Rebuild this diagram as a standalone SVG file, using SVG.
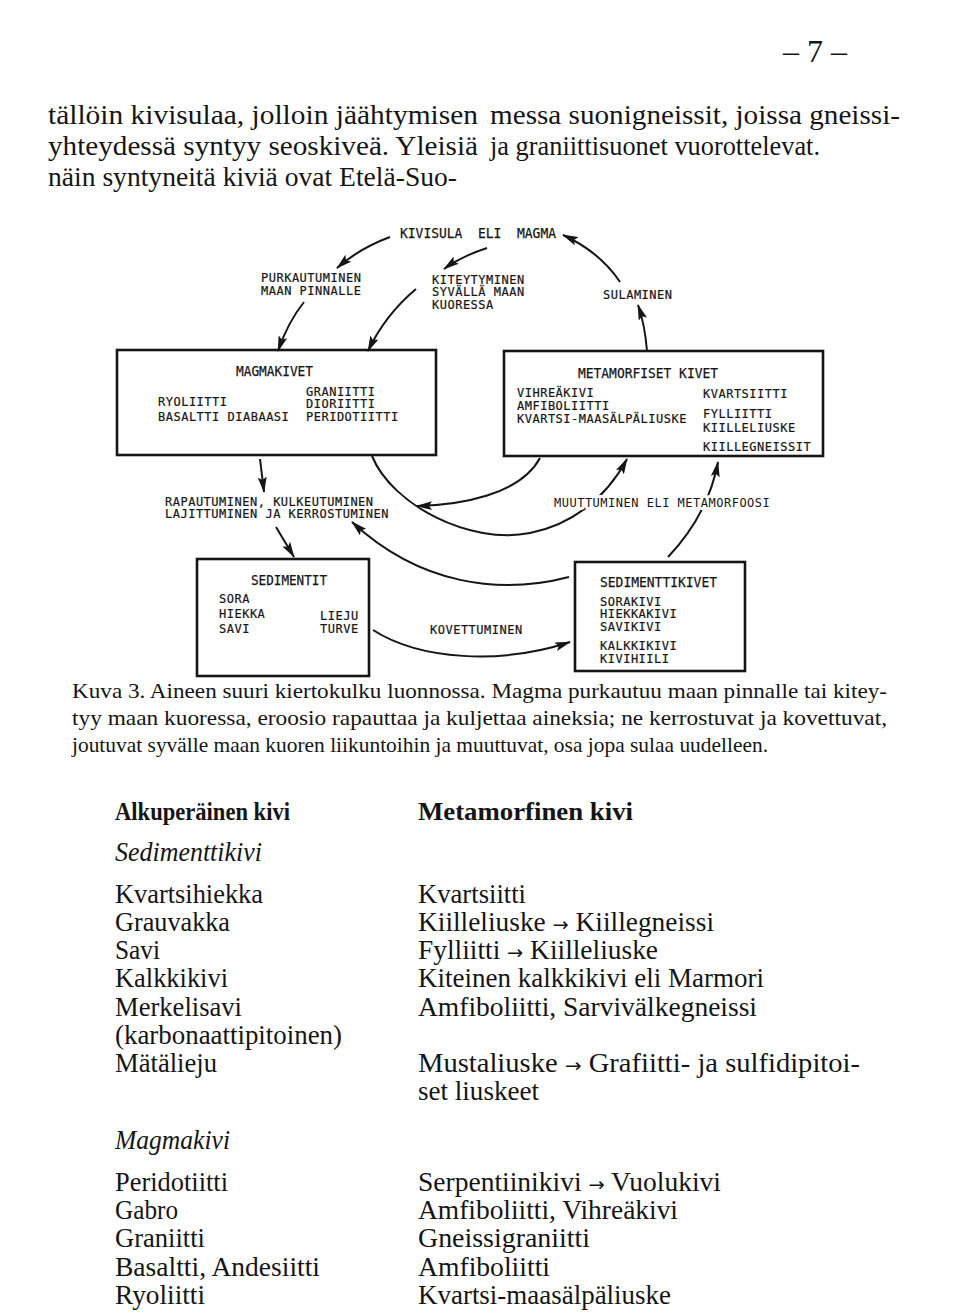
<svg xmlns="http://www.w3.org/2000/svg" width="960" height="1315" viewBox="0 0 960 1315">
<style>
.pg{font-family:"Liberation Serif","Times New Roman",serif;fill:#151515;}
.p{font-size:27px;}
.cap{font-size:22px;}
.tb{font-size:27px;}
.bh{font-size:26px;font-weight:bold;}
.it{font-size:27px;font-style:italic;}
.ar{font-family:"DejaVu Sans",sans-serif;font-size:19px;}
.h{font-family:"DejaVu Sans Mono",monospace;font-size:14px;fill:#151515;stroke:#151515;stroke-width:0.25px;}
.t{font-family:"DejaVu Sans Mono",monospace;font-size:12px;letter-spacing:0.5px;fill:#151515;stroke:#151515;stroke-width:0.2px;}
.halo{stroke:#fff;stroke-width:6px;paint-order:stroke;stroke-linejoin:round;}
.box{fill:none;stroke:#151515;stroke-width:2.6;}
.ln{fill:none;stroke:#151515;stroke-width:2;marker-end:url(#ah);}
</style>
<defs>
<marker id="ah" markerUnits="userSpaceOnUse" markerWidth="16" markerHeight="9" refX="15" refY="4.5" orient="auto">
<path d="M0,0 L16,4.5 L0,9 L3,4.5 Z" fill="#151515"/>
</marker>
</defs>
<rect width="960" height="1315" fill="#fff"/>

<!-- page text -->
<text class="pg" x="815" y="62" font-size="32" text-anchor="middle">– 7 –</text>
<text class="pg p" x="48" y="124" textLength="430" lengthAdjust="spacingAndGlyphs">tällöin kivisulaa, jolloin jäähtymisen</text>
<text class="pg p" x="48" y="155" textLength="430" lengthAdjust="spacingAndGlyphs">yhteydessä syntyy seoskiveä. Yleisiä</text>
<text class="pg p" x="48" y="186" textLength="409" lengthAdjust="spacingAndGlyphs">näin syntyneitä kiviä ovat Etelä-Suo-</text>
<text class="pg p" x="490" y="124" textLength="410" lengthAdjust="spacingAndGlyphs">messa suonigneissit, joissa gneissi-</text>
<text class="pg p" x="490" y="155" textLength="330" lengthAdjust="spacingAndGlyphs">ja graniittisuonet vuorottelevat.</text>

<!-- connectors -->
<g id="connectors">
<path class="ln" d="M390,237 Q360,248 337,268"/>
<path class="ln" d="M487,248 Q462,256 444,269"/>
<path class="ln" d="M620,282 Q600,252 563,235"/>
<path class="ln" d="M304,302 Q288,322 278,351"/>
<path class="ln" d="M416,289 Q385,315 368,351"/>
<path class="ln" d="M647,351 Q645,325 638,305"/>
<path class="ln" d="M260,459 L264,492"/>
<path class="ln" d="M372,456 C392,505 470,545 530,533 C570,525 605,500 627,459"/>
<path class="ln" d="M540,458 C520,495 460,505 417,506"/>
<path class="ln" d="M569,577 C500,595 420,585 352,522"/>
<path class="ln" d="M668,557 Q708,515 718,462"/>
<path class="ln" d="M276,527 L294,557"/>
<path class="ln" d="M373,630 C420,660 500,665 570,642"/>
</g>

<g id="node-magma">
<text class="h" x="400" y="238" textLength="156" lengthAdjust="spacingAndGlyphs" xml:space="preserve">KIVISULA  ELI  MAGMA</text>
</g>
<g id="node-purkautuminen">
<text class="t" x="261" y="282">PURKAUTUMINEN</text>
<text class="t" x="261" y="295">MAAN PINNALLE</text>
</g>
<g id="node-kiteytyminen">
<text class="t" x="432" y="284">KITEYTYMINEN</text>
<text class="t" x="432" y="296">SYVÄLLÄ MAAN</text>
<text class="t" x="432" y="309">KUORESSA</text>
</g>
<g id="node-sulaminen">
<text class="t" x="603" y="299">SULAMINEN</text>
</g>

<g id="node-magmakivet">
<rect class="box" x="117" y="350" width="319" height="105"/>
<text class="h" x="236" y="376" textLength="77" lengthAdjust="spacingAndGlyphs">MAGMAKIVET</text>
<text class="t" x="306" y="396">GRANIITTI</text>
<text class="t" x="306" y="408">DIORIITTI</text>
<text class="t" x="306" y="421">PERIDOTIITTI</text>
<text class="t" x="158" y="406">RYOLIITTI</text>
<text class="t" x="158" y="421">BASALTTI DIABAASI</text>
</g>

<g id="node-metamorfiset">
<rect class="box" x="504" y="351" width="319" height="105"/>
<text class="h" x="578" y="378" textLength="140" lengthAdjust="spacingAndGlyphs">METAMORFISET KIVET</text>
<text class="t" x="517" y="397">VIHREÄKIVI</text>
<text class="t" x="517" y="410">AMFIBOLIITTI</text>
<text class="t" x="517" y="423">KVARTSI-MAASÄLPÄLIUSKE</text>
<text class="t" x="703" y="398">KVARTSIITTI</text>
<text class="t" x="703" y="418">FYLLIITTI</text>
<text class="t" x="703" y="432">KIILLELIUSKE</text>
<text class="t" x="703" y="451">KIILLEGNEISSIT</text>
</g>

<g id="node-rapautuminen">
<text class="t" x="165" y="506">RAPAUTUMINEN, KULKEUTUMINEN</text>
<text class="t" x="165" y="518">LAJITTUMINEN JA KERROSTUMINEN</text>
</g>
<g id="node-muuttuminen">
<text class="t halo" x="554" y="507">MUUTTUMINEN ELI METAMORFOOSI</text>
</g>

<g id="node-sedimentit">
<rect class="box" x="197" y="559" width="172" height="117"/>
<text class="h" x="251" y="585" textLength="76" lengthAdjust="spacingAndGlyphs">SEDIMENTIT</text>
<text class="t" x="219" y="603">SORA</text>
<text class="t" x="219" y="618">HIEKKA</text>
<text class="t" x="219" y="633">SAVI</text>
<text class="t" x="320" y="620">LIEJU</text>
<text class="t" x="320" y="633">TURVE</text>
</g>

<g id="node-kovettuminen">
<text class="t" x="430" y="634">KOVETTUMINEN</text>
</g>

<g id="node-sedimenttikivet">
<rect class="box" x="575" y="562" width="170" height="109"/>
<text class="h" x="600" y="587" textLength="117" lengthAdjust="spacingAndGlyphs">SEDIMENTTIKIVET</text>
<text class="t" x="600" y="606">SORAKIVI</text>
<text class="t" x="600" y="618">HIEKKAKIVI</text>
<text class="t" x="600" y="631">SAVIKIVI</text>
<text class="t" x="600" y="650">KALKKIKIVI</text>
<text class="t" x="600" y="663">KIVIHIILI</text>
</g>

<!-- caption -->
<text class="pg cap" x="72" y="698" textLength="815" lengthAdjust="spacingAndGlyphs">Kuva 3. Aineen suuri kiertokulku luonnossa. Magma purkautuu maan pinnalle tai kitey-</text>
<text class="pg cap" x="72" y="725" textLength="815" lengthAdjust="spacingAndGlyphs">tyy maan kuoressa, eroosio rapauttaa ja kuljettaa aineksia; ne kerrostuvat ja kovettuvat,</text>
<text class="pg cap" x="72" y="752" textLength="696" lengthAdjust="spacingAndGlyphs">joutuvat syvälle maan kuoren liikuntoihin ja muuttuvat, osa jopa sulaa uudelleen.</text>

<!-- table -->
<text class="pg bh" x="115" y="820" textLength="175" lengthAdjust="spacingAndGlyphs">Alkuperäinen kivi</text>
<text class="pg bh" x="418" y="820" textLength="215" lengthAdjust="spacingAndGlyphs">Metamorfinen kivi</text>
<text class="pg it" x="115" y="861" textLength="147" lengthAdjust="spacingAndGlyphs">Sedimenttikivi</text>

<text class="pg tb" x="115" y="903" textLength="148" lengthAdjust="spacingAndGlyphs">Kvartsihiekka</text>
<text class="pg tb" x="115" y="931" textLength="115" lengthAdjust="spacingAndGlyphs">Grauvakka</text>
<text class="pg tb" x="115" y="959" textLength="45" lengthAdjust="spacingAndGlyphs">Savi</text>
<text class="pg tb" x="115" y="987" textLength="113" lengthAdjust="spacingAndGlyphs">Kalkkikivi</text>
<text class="pg tb" x="115" y="1016" textLength="127" lengthAdjust="spacingAndGlyphs">Merkelisavi</text>
<text class="pg tb" x="115" y="1044" textLength="227" lengthAdjust="spacingAndGlyphs">(karbonaattipitoinen)</text>
<text class="pg tb" x="115" y="1072" textLength="102" lengthAdjust="spacingAndGlyphs">Mätälieju</text>

<text class="pg tb" x="418" y="903" textLength="108" lengthAdjust="spacingAndGlyphs">Kvartsiitti</text>
<text class="pg tb" x="418" y="931" textLength="296" lengthAdjust="spacingAndGlyphs">Kiilleliuske <tspan class="ar">→</tspan> Kiillegneissi</text>
<text class="pg tb" x="418" y="959" textLength="240" lengthAdjust="spacingAndGlyphs">Fylliitti <tspan class="ar">→</tspan> Kiilleliuske</text>
<text class="pg tb" x="418" y="987" textLength="346" lengthAdjust="spacingAndGlyphs">Kiteinen kalkkikivi eli Marmori</text>
<text class="pg tb" x="418" y="1016" textLength="339" lengthAdjust="spacingAndGlyphs">Amfiboliitti, Sarvivälkegneissi</text>
<text class="pg tb" x="418" y="1072" textLength="442" lengthAdjust="spacingAndGlyphs">Mustaliuske <tspan class="ar">→</tspan> Grafiitti-  ja sulfidipitoi-</text>
<text class="pg tb" x="418" y="1100" textLength="121" lengthAdjust="spacingAndGlyphs">set liuskeet</text>

<text class="pg it" x="115" y="1149" textLength="115" lengthAdjust="spacingAndGlyphs">Magmakivi</text>
<text class="pg tb" x="115" y="1191" textLength="113" lengthAdjust="spacingAndGlyphs">Peridotiitti</text>
<text class="pg tb" x="115" y="1219" textLength="63" lengthAdjust="spacingAndGlyphs">Gabro</text>
<text class="pg tb" x="115" y="1247" textLength="90" lengthAdjust="spacingAndGlyphs">Graniitti</text>
<text class="pg tb" x="115" y="1276" textLength="205" lengthAdjust="spacingAndGlyphs">Basaltti, Andesiitti</text>
<text class="pg tb" x="115" y="1304" textLength="90" lengthAdjust="spacingAndGlyphs">Ryoliitti</text>

<text class="pg tb" x="418" y="1191" textLength="303" lengthAdjust="spacingAndGlyphs">Serpentiinikivi <tspan class="ar">→</tspan> Vuolukivi</text>
<text class="pg tb" x="418" y="1219" textLength="260" lengthAdjust="spacingAndGlyphs">Amfiboliitti, Vihreäkivi</text>
<text class="pg tb" x="418" y="1247" textLength="172" lengthAdjust="spacingAndGlyphs">Gneissigraniitti</text>
<text class="pg tb" x="418" y="1276" textLength="132" lengthAdjust="spacingAndGlyphs">Amfiboliitti</text>
<text class="pg tb" x="418" y="1304" textLength="253" lengthAdjust="spacingAndGlyphs">Kvartsi-maasälpäliuske</text>
</svg>
